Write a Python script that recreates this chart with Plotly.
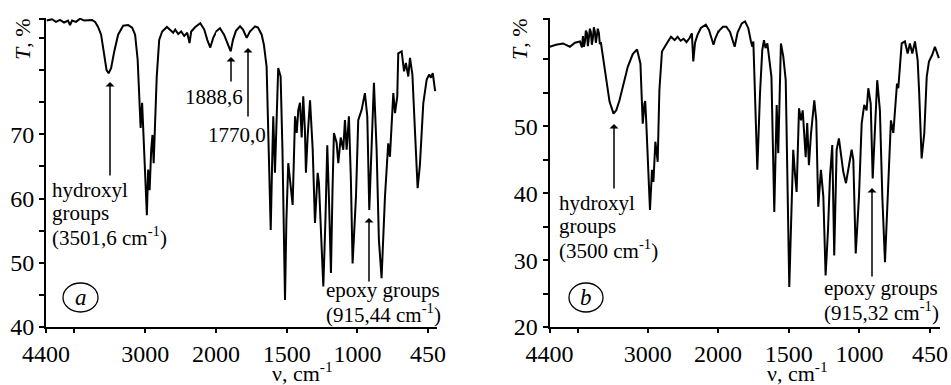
import plotly.graph_objects as go

W, H = 951, 385
FONT = "Times New Roman, Liberation Serif, serif"

# ---------------- data: spectrum (a) ----------------
nu_a = [4390, 4315, 4259, 4202, 4145, 4089, 4061, 4032, 3976, 3919, 3863, 3806, 3750, 3707,
        3665, 3622, 3580, 3545, 3516, 3481, 3438, 3382, 3311, 3240, 3184, 3142, 3106, 3078,
        3064, 3043, 3028, 3000, 2976, 2958, 2937, 2915, 2897, 2880, 2859, 2837, 2802, 2760,
        2693, 2647, 2604, 2576, 2534, 2491, 2449, 2406, 2374, 2350, 2293, 2222, 2166, 2123,
        2081, 2039, 2000,
        1972, 1943, 1922, 1896, 1880, 1859, 1830, 1809, 1783, 1760, 1724, 1703, 1677, 1661,
        1642, 1629, 1613, 1604, 1595, 1583, 1572, 1560, 1543, 1530, 1512, 1502, 1489, 1470,
        1458, 1441, 1429, 1418, 1406, 1394, 1383, 1371, 1364, 1352, 1335, 1316, 1300, 1281,
        1272, 1258, 1241, 1226, 1213, 1201, 1187, 1176, 1166, 1147, 1135, 1118, 1100, 1088,
        1076, 1060, 1046, 1034, 1021, 1010, 994, 970, 947, 930, 916, 899, 883, 864, 848, 829,
        816, 805, 782, 770, 746, 734, 718, 711, 687, 670, 657, 640, 628, 611, 593, 574, 558,
        534, 510, 492, 480, 467, 450]
t_a = [87.7, 87.9, 87.5, 87.8, 87.4, 87.7, 87.0, 87.7, 87.5, 88.0, 87.7, 87.8, 87.8, 87.5,
       86.7, 85.5, 82.4, 80.0, 79.5, 80.3, 82.8, 85.5, 86.9, 87.0, 86.6, 85.5, 81.6, 73.8,
       71.0, 74.9, 71.2, 62.9, 57.4, 64.5, 61.3, 67.6, 69.9, 65.5, 72.2, 78.9, 84.7, 86.0,
       86.7, 86.3, 85.8, 86.3, 85.6, 86.0, 85.3, 85.8, 84.2, 86.0, 86.7, 87.3, 86.3, 84.7,
       83.5, 85.0, 86.0,
       86.5, 85.5, 84.2, 82.9, 84.7, 86.1, 86.8, 86.3, 85.0, 86.0, 86.8, 86.6, 85.5, 83.9,
       80.5, 70.6, 55.1, 64.5, 72.8, 64.0, 72.2, 80.3, 79.0, 67.6, 44.2, 56.7, 65.5, 61.9,
       59.0, 72.8, 70.2, 73.8, 74.9, 69.5, 75.9, 70.6, 64.0, 69.6, 75.3, 67.6, 56.2, 64.0,
       62.4, 55.1, 46.3, 56.7, 68.3, 59.8, 48.4, 61.3, 70.2, 68.7, 65.5, 69.5, 67.6, 72.2,
       67.6, 72.8, 62.9, 49.9, 55.1, 60.3, 72.2, 73.8, 76.4, 72.8, 58.2, 69.5, 78.0, 67.6,
       53.6, 47.6, 55.1, 60.3, 68.6, 66.5, 76.4, 73.3, 75.9, 82.6, 82.9, 79.8, 81.1, 79.0,
       81.9, 79.3, 70.6, 61.6, 65.2, 74.8, 78.5, 79.3, 78.8, 79.5, 76.7]

# ---------------- data: spectrum (b) ----------------
nu_b = [4397, 4308, 4208, 4109, 4038, 3967, 3938, 3924, 3910, 3896, 3882, 3868, 3853, 3839,
        3825, 3811, 3797, 3782, 3768, 3754, 3740, 3726, 3712, 3697, 3683, 3669, 3640, 3593,
        3545, 3488, 3449, 3403, 3349, 3285, 3214, 3153, 3105, 3087, 3072, 3048, 3037, 3023,
        2994, 2969, 2940, 2920, 2892, 2859, 2835, 2798, 2741, 2670, 2618, 2575, 2533, 2490,
        2448, 2405, 2372, 2352, 2327, 2291, 2244, 2173, 2128, 2064, 2036, 2000,
        1988, 1965, 1941, 1915, 1882, 1862, 1832, 1809, 1786, 1767, 1757, 1750, 1738, 1722,
        1703, 1687, 1675, 1664, 1651, 1639, 1622, 1602, 1585, 1574, 1555, 1538, 1521, 1496,
        1480, 1468, 1456, 1444, 1427, 1413, 1401, 1392, 1380, 1369, 1357, 1342, 1319, 1305,
        1291, 1272, 1255, 1239, 1222, 1208, 1192, 1178, 1161, 1145, 1125, 1114, 1095, 1079,
        1055, 1043, 1026, 1003, 984, 966, 949, 937, 920, 906, 890, 874, 855, 838, 819, 796,
        777, 760, 743, 734, 725, 701, 678, 659, 643, 626, 607, 588, 577, 560, 541, 524, 508,
        485, 466, 447, 438]
t_b = [61.9, 62.2, 62.4, 61.9, 62.5, 62.7, 61.8, 63.5, 61.9, 62.6, 64.3, 64.0, 62.0, 63.1,
       64.6, 64.1, 62.2, 63.2, 64.8, 64.2, 62.5, 63.5, 64.6, 64.0, 62.3, 62.6, 60.4, 57.4,
       53.7, 51.9, 52.4, 53.9, 56.2, 58.9, 60.8, 61.5, 59.4, 55.4, 50.4, 53.4, 53.8, 50.9,
       43.5, 37.5, 43.5, 41.7, 47.7, 44.7, 55.4, 61.2, 62.2, 63.4, 62.9, 63.4, 62.8, 63.1,
       62.6, 63.2, 63.9, 59.7, 62.5, 63.7, 64.7, 65.2, 64.4, 62.2, 63.2, 64.0,
       64.4, 64.9, 64.9, 64.1, 61.9, 64.0, 65.4, 65.7, 64.7, 62.7, 61.9, 62.7, 55.4, 43.5,
       54.9, 61.4, 62.9, 61.7, 62.4, 60.4, 57.4, 37.2, 53.2, 46.0, 62.4, 60.4, 56.9, 26.0,
       39.0, 46.5, 43.0, 40.2, 52.7, 50.9, 52.4, 49.5, 45.4, 50.5, 44.2, 49.0, 53.9, 50.9,
       38.0, 43.5, 39.5, 27.7, 34.5, 42.5, 47.2, 30.7, 46.5, 48.2, 45.4, 43.2, 41.5, 43.5,
       46.5, 45.0, 31.0, 39.5, 50.4, 53.2, 52.4, 55.7, 53.4, 42.2, 50.9, 56.9, 52.4, 39.5,
       29.7, 40.5, 50.9, 49.0, 54.4, 56.4, 55.7, 62.4, 62.7, 60.9, 62.4, 60.9, 62.7, 59.9,
       54.9, 45.2, 49.0, 57.4, 59.7, 60.7, 61.9, 60.7, 60.2]

# ---------------- axis ticks ----------------
hi_tickvals = [4400, 3000, 2000]
hi_ticktext = ["4400", "3000", "2000"]
hi_minor = [4000]
lo_tickvals = [1500, 1000, 500]
lo_ticktext = ["1500", "1000", "450"]
ya_tickvals = [40, 50, 60, 70]
ya_minor = [45, 55, 65, 75, 80, 85, 88]
yb_tickvals = [20, 30, 40, 50]
yb_minor = [25, 35, 45, 55, 60, 66]


def px(x):
    return x / W


def py(y):
    return 1 - y / H


fig = go.Figure()
line = dict(color="black", width=2)
for xa in ["x", "x2"]:
    fig.add_trace(go.Scatter(x=nu_a, y=t_a, mode="lines", line=line, xaxis=xa, yaxis="y",
                             showlegend=False, hoverinfo="skip"))
for xa in ["x3", "x4"]:
    fig.add_trace(go.Scatter(x=nu_b, y=t_b, mode="lines", line=line, xaxis=xa, yaxis="y2",
                             showlegend=False, hoverinfo="skip"))

tickfont = dict(family=FONT, size=24, color="black")
xcommon = dict(showline=True, linecolor="black", linewidth=2, ticks="outside", ticklen=4,
               tickwidth=1.5, tickcolor="black", showgrid=False, zeroline=False,
               tickfont=tickfont, automargin=False, fixedrange=True)
ycommon = dict(showline=True, linecolor="black", linewidth=2, ticks="outside", ticklen=5,
               tickwidth=1.5, tickcolor="black", showgrid=False, zeroline=False,
               tickfont=tickfont, automargin=False, fixedrange=True)


def minor(vals, ln):
    return dict(tickmode="array", tickvals=vals, ticks="outside", ticklen=ln,
                tickwidth=1.5, tickcolor="black", showgrid=False)


ydom = [py(327), py(18)]

fig.update_layout(
    width=W, height=H,
    margin=dict(l=0, r=0, t=0, b=0),
    paper_bgcolor="white", plot_bgcolor="white",
    xaxis=dict(xcommon, domain=[px(46), px(216)], range=[4400, 2000], anchor="y",
               tickmode="array", tickvals=hi_tickvals, ticktext=hi_ticktext,
               minor=minor(hi_minor, 4)),
    xaxis2=dict(xcommon, domain=[px(216), px(437)], range=[2000, 437], anchor="y",
                tickmode="array", tickvals=lo_tickvals, ticktext=lo_ticktext),
    xaxis3=dict(xcommon, domain=[px(549.5), px(718)], range=[4400, 2000], anchor="y2",
                tickmode="array", tickvals=hi_tickvals, ticktext=hi_ticktext,
                minor=minor(hi_minor, 4)),
    xaxis4=dict(xcommon, domain=[px(718), px(940)], range=[2000, 430], anchor="y2",
                tickmode="array", tickvals=lo_tickvals, ticktext=lo_ticktext),
    yaxis=dict(ycommon, domain=ydom, range=[40, 88.1], anchor="x",
               tickmode="array", tickvals=ya_tickvals, minor=minor(ya_minor, 5)),
    yaxis2=dict(ycommon, domain=ydom, range=[20, 66.2], anchor="x3",
                tickmode="array", tickvals=yb_tickvals, minor=minor(yb_minor, 5)),
)

ann = []


def text(x, y, s, xanchor="left", size=21, angle=0):
    ann.append(dict(x=px(x), y=py(y), xref="paper", yref="paper", text=s, showarrow=False,
                    xanchor=xanchor, yanchor="middle", textangle=angle, borderpad=0,
                    font=dict(family=FONT, size=size, color="black")))


def arrow(x, ytip, ytail):
    ann.append(dict(x=px(x), y=py(ytip), xref="paper", yref="paper", text="",
                    showarrow=True, ax=0, ay=ytail - ytip, arrowhead=1, arrowsize=1,
                    arrowwidth=1.5, arrowcolor="black"))


# panel a
text(51, 190, "hydroxyl")
text(51, 213, "groups")
text(51, 236, "(3501,6 cm<sup>-1</sup>)")
arrow(110, 82, 177)
text(214, 97, "1888,6", xanchor="center")
arrow(231, 57, 83)
text(237, 135, "1770,0", xanchor="center")
arrow(248, 48, 118)
text(325, 290, "epoxy groups")
text(325, 313, "(915,44 cm<sup>-1</sup>)")
arrow(369, 218, 283)
text(22, 39, "<i>T</i>, %", xanchor="center", size=22, angle=-90)
text(302, 372, "ν, cm<sup>-1</sup>", xanchor="center", size=22)
text(80.5, 297, "<i>a</i>", xanchor="center", size=23)

# panel b
text(558, 203, "hydroxyl")
text(558, 226, "groups")
text(558, 249, "(3500 cm<sup>-1</sup>)")
arrow(614, 124, 190)
text(823, 288, "epoxy groups")
text(823, 311, "(915,32 cm<sup>-1</sup>)")
arrow(872, 188, 278)
text(519, 39, "<i>T</i>, %", xanchor="center", size=22, angle=-90)
text(797, 372, "ν, cm<sup>-1</sup>", xanchor="center", size=22)
text(586, 297, "<i>b</i>", xanchor="center", size=23)

fig.update_layout(annotations=ann)

shapes = []
for (x0, x1) in [(63, 98), (569, 603)]:
    shapes.append(dict(type="circle", xref="paper", yref="paper", x0=px(x0), x1=px(x1),
                       y0=py(312), y1=py(283), line=dict(color="black", width=1.3)))
fig.update_layout(shapes=shapes)

fig.write_html("out.html", config={"displayModeBar": False},
               post_script="document.body.style.margin='0px';document.body.style.overflow='hidden';")
